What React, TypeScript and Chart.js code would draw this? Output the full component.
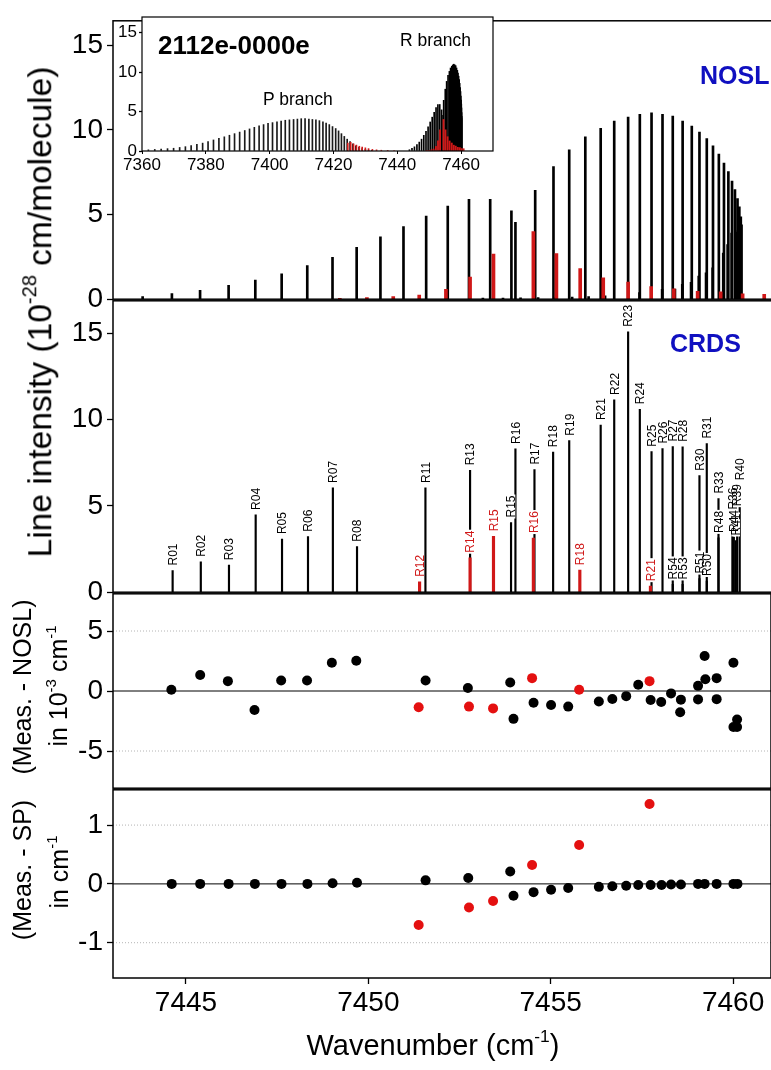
import React, { useEffect, useRef } from "react";
import { Chart, registerables } from "chart.js";

Chart.register(...registerables);

const FONT = "'Liberation Sans', Arial, Helvetica, sans-serif";
Chart.defaults.font.family = FONT;
Chart.defaults.color = "#000";

// ---------------- shared axis ----------------
const X_MIN = 7443.0;
const X_MAX = 7461.04;
const X_TICKS = [7445, 7450, 7455, 7460];

// ---------------- NOSL (top panel) ----------------
const noslBlackWn = [
  7443.81, 7444.61, 7445.38, 7446.16, 7446.89, 7447.61, 7448.31, 7449.0, 7449.66, 7450.31,
  7450.94, 7451.56, 7452.15, 7452.73, 7453.31, 7453.89, 7454.0, 7454.54, 7455.04, 7455.47,
  7455.91, 7456.33, 7456.7, 7457.08, 7457.4, 7457.72, 7458.02, 7458.3, 7458.57, 7458.82,
  7459.03, 7459.23, 7459.4, 7459.56, 7459.7, 7459.82, 7459.92, 7460.0, 7460.07, 7460.12,
  7460.16, 7460.18, 7460.14, 7460.08, 7460.02, 7459.91, 7459.8, 7459.68, 7459.39, 7459.21,
  7459.01, 7458.8, 7458.56, 7458.36, 7458.01, 7457.39, 7453.11, 7453.66, 7454.14, 7454.62,
  7455.1, 7455.55, 7456.0, 7456.45,
];
const noslBlackInt = [
  0.16, 0.33, 0.53, 0.82, 1.13, 1.5, 1.99, 2.48, 3.06, 3.68,
  4.29, 4.91, 5.5, 5.9, 5.9, 5.22, 4.54, 6.43, 7.84, 8.83,
  9.59, 10.1, 10.53, 10.76, 10.92, 11.01, 10.92, 10.82, 10.53, 10.23,
  9.88, 9.49, 9.06, 8.58, 8.05, 7.54, 6.98, 6.47, 5.95, 5.46,
  4.87, 4.4, 4.2, 4.05, 3.95, 3.9, 3.22, 2.73, 1.85, 1.56,
  1.36, 1.0, 0.88, 0.6, 0.58, 0.39, 0.06, 0.06, 0.08, 0.1,
  0.1, 0.12, 0.15, 0.2,
];
const noslRedWn = [
  7449.2, 7449.94, 7450.66, 7451.37, 7452.1, 7452.76, 7453.4, 7454.49, 7455.12, 7455.77,
  7456.4, 7457.08, 7457.71, 7458.33, 7458.98, 7459.61, 7460.21, 7460.8,
];
const noslRedInt = [
  0.05, 0.1, 0.15, 0.25, 0.58, 1.3, 2.67, 4.0, 2.69, 1.81,
  1.27, 1.01, 0.74, 0.62, 0.47, 0.43, 0.31, 0.29,
];
const NOSL_Y_TICKS = [0, 5, 10, 15];

// ---------------- inset (full band) ----------------
const insetPWn = [
  7362.0, 7364.0, 7366.0, 7368.0, 7369.9, 7371.8, 7373.6, 7375.4, 7377.2, 7379.0,
  7380.7, 7382.4, 7384.1, 7385.8, 7387.4, 7389.0, 7390.6, 7392.2, 7393.7, 7395.2,
  7396.7, 7398.1, 7399.5, 7400.9, 7402.3, 7403.6, 7404.9, 7406.2, 7407.5, 7408.7,
  7409.9, 7411.1, 7412.3, 7413.4, 7414.5, 7415.6, 7416.7, 7417.7, 7418.7, 7419.7,
  7420.7, 7421.6, 7422.5, 7423.4, 7424.3, 7425.2, 7426.1, 7427.0, 7428.0, 7429.0,
  7430.0, 7431.0, 7432.0,
];
const insetPInt = [
  0.15, 0.2, 0.25, 0.3, 0.35, 0.45, 0.55, 0.7, 0.85, 1.0,
  1.2, 1.4, 1.6, 1.8, 2.0, 2.2, 2.4, 2.6, 2.8, 3.0,
  3.2, 3.35, 3.5, 3.6, 3.7, 3.8, 3.9, 3.95, 4.0, 4.05,
  4.1, 4.1, 4.05, 4.0, 3.95, 3.85, 3.7, 3.55, 3.35, 3.1,
  2.85, 2.55, 2.2, 1.85, 1.5, 1.2, 0.9, 0.65, 0.45, 0.3,
  0.2, 0.12, 0.08,
];
const insetRedWn = [
  7424.5, 7425.4, 7426.3, 7427.2, 7428.1, 7429.0, 7430.0, 7431.0, 7432.2, 7433.5,
  7435.0, 7437.0, 7439.0,
];
const insetRedInt = [
  1.0, 1.1, 0.9, 0.75, 0.6, 0.5, 0.4, 0.3, 0.2, 0.15,
  0.1, 0.08, 0.06,
];
const INSET_X_TICKS = [7360, 7380, 7400, 7420, 7440, 7460];
const INSET_Y_TICKS = [0, 5, 10, 15];

// ---------------- CRDS ----------------
const crdsBlackWn = [
  7444.63, 7445.4, 7446.17, 7446.9, 7447.62, 7448.33, 7449.01, 7449.67, 7451.54, 7452.76,
  7453.88, 7454.0, 7454.52, 7455.03, 7455.47, 7456.33, 7456.7, 7457.08, 7457.4, 7457.72,
  7458.02, 7458.3, 7458.57, 7458.3, 7458.57, 7459.03, 7459.03, 7459.23, 7459.23, 7459.55,
  7459.55, 7459.93, 7459.97, 7460.02, 7460.06, 7460.13,
];
const crdsBlackInt = [
  1.26, 1.76, 1.57, 4.48, 3.08, 3.22, 6.05, 2.64, 6.05, 7.07,
  4.04, 8.31, 7.11, 8.12, 8.79, 9.69, 11.15, 15.1, 10.61, 8.15,
  8.33, 8.45, 8.43, 0.45, 0.45, 6.76, 0.79, 8.62, 0.65, 5.43,
  3.15, 4.5, 3.2, 3.0, 4.7, 6.2,
];
const crdsBlackLabels = [
  "R01", "R02", "R03", "R04", "R05", "R06", "R07", "R08", "R11", "R13",
  "R15", "R16", "R17", "R18", "R19", "R21", "R22", "R23", "R24", "R25",
  "R26", "R27", "R28", "R54", "R53", "R30", "R51", "R31", "R50", "R33",
  "R48", "R36", "R44", "R41", "R39", "R40",
];
const crdsRedWn = [7451.38, 7452.76, 7453.4, 7454.49, 7455.76, 7457.69];
const crdsRedInt = [0.6, 2.0, 3.24, 3.14, 1.28, 0.35];
const crdsRedLabels = ["R12", "R14", "R15", "R16", "R18", "R21"];
const CRDS_Y_TICKS = [0, 5, 10, 15];

// ---------------- residuals vs NOSL (10^-3 cm-1) ----------------
const resNoslBlackWn = [
  7444.6, 7445.39, 7446.15, 7446.88, 7447.61, 7448.32, 7449.0, 7449.67, 7451.57, 7452.73,
  7453.89, 7453.98, 7454.53, 7455.01, 7455.48, 7456.32, 7456.69, 7457.07, 7457.4, 7457.74,
  7458.03, 7458.3, 7458.57, 7458.55, 7459.04, 7459.04, 7459.22, 7459.24, 7459.55, 7459.55,
  7460.01, 7460.01, 7460.11, 7460.11,
];
const resNoslBlackVal = [
  0.1, 1.34, 0.82, -1.58, 0.88, 0.88, 2.35, 2.52, 0.88, 0.25,
  0.71, -2.32, -0.98, -1.17, -1.3, -0.87, -0.67, -0.43, 0.52, -0.75,
  -0.92, -0.2, -0.72, -1.77, 0.43, -0.7, 2.92, 0.98, 1.07, -0.68,
  2.35, -3.0, -2.38, -3.0,
];
const resNoslRedWn = [7451.38, 7452.76, 7453.42, 7454.49, 7455.78, 7457.71];
const resNoslRedVal = [-1.36, -1.3, -1.45, 1.07, 0.1, 0.82];
const RES1_Y_TICKS = [-5, 0, 5];
const RES1_DOTTED = [-5, 5];

// ---------------- residuals vs SP (cm-1) ----------------
const resSpBlackWn = [
  7444.61, 7445.39, 7446.17, 7446.89, 7447.62, 7448.33, 7449.02, 7449.69, 7451.57, 7452.74,
  7453.89, 7453.98, 7454.53, 7455.01, 7455.48, 7456.32, 7456.69, 7457.07, 7457.4, 7457.74,
  7458.04, 7458.3, 7458.57, 7459.04, 7459.22, 7459.55, 7460.01, 7460.12,
];
const resSpBlackVal = [
  0, 0, 0, 0, 0, 0, 0.01, 0.02, 0.06, 0.1,
  0.21, -0.2, -0.14, -0.1, -0.07, -0.05, -0.04, -0.03, -0.02, -0.02,
  -0.02, -0.01, -0.01, 0, 0, 0, 0, 0,
];
const resSpRedWn = [7451.38, 7452.76, 7453.42, 7454.49, 7455.78, 7457.71];
const resSpRedVal = [-0.7, -0.4, -0.29, 0.32, 0.66, 1.36];
const RES2_Y_TICKS = [-1, 0, 1];
const RES2_DOTTED = [-1, 1];

// ---------------- styling ----------------
const W = 776; // canvas width (page clips at 771, like the cropped original)
const LEFT = 113;
const RIGHT = 773;
const RED_LINE = "#d01818";
const RED_DOT = "#e41010";
const BLUE = "#1010c0";

const pts = (xs: number[], ys: number[]) => xs.map((x, i) => ({ x, y: ys[i] }));

function yScale(min: number, max: number, ticks: number[], width: number, size: number, tickLen: number, pad: number) {
  return {
    type: "linear",
    position: "left",
    min,
    max,
    afterFit: (s: any) => {
      s.width = width;
    },
    afterBuildTicks: (s: any) => {
      s.ticks = ticks.map((v) => ({ value: v }));
    },
    grid: {
      drawOnChartArea: false,
      drawTicks: true,
      tickLength: tickLen,
      tickColor: "#000",
      tickWidth: 1.3,
      color: "#000",
    },
    border: { display: false },
    ticks: { font: { size }, padding: pad, color: "#000", autoSkip: false, callback: (v: any) => String(v) },
  };
}

const hiddenX = {
  type: "linear",
  min: X_MIN,
  max: X_MAX,
  display: false,
  offset: false,
  grid: { offset: false },
};

function base(padding: any) {
  return {
    responsive: false,
    maintainAspectRatio: false,
    animation: false,
    events: [],
    layout: { padding },
    plugins: { legend: { display: false }, tooltip: { enabled: false }, title: { display: false } },
  };
}

function framePlugin(fill: string | null, lw = 1.5) {
  return {
    id: "frame",
    beforeDraw(chart: any) {
      if (!fill) return;
      const a = chart.chartArea;
      const c = chart.ctx;
      c.save();
      c.fillStyle = fill;
      c.fillRect(a.left, a.top, a.right - a.left, a.bottom - a.top);
      c.restore();
    },
    afterDraw(chart: any) {
      const a = chart.chartArea;
      const c = chart.ctx;
      c.save();
      c.strokeStyle = "#000";
      c.lineWidth = lw;
      c.strokeRect(a.left, a.top, a.right - a.left, a.bottom - a.top);
      c.restore();
    },
  };
}

// labels above CRDS sticks (dataset 0 = red, dataset 1 = black)
const stickLabelPlugin = {
  id: "stickLabels",
  afterDatasetsDraw(chart: any) {
    const ctx = chart.ctx;
    const GAP = 5;
    const items: any[] = [];
    const sets = [
      { idx: 1, labels: crdsBlackLabels, color: "#000" },
      { idx: 0, labels: crdsRedLabels, color: RED_LINE },
    ];
    sets.forEach((s) => {
      const meta = chart.getDatasetMeta(s.idx);
      meta.data.forEach((el: any, i: number) => items.push({ x: el.x, y: el.y, text: s.labels[i], color: s.color }));
    });
    ctx.save();
    ctx.font = `12px ${FONT}`;
    items.forEach((it) => {
      const w = ctx.measureText(it.text).width;
      ctx.fillStyle = "#fff";
      ctx.fillRect(it.x - 4.3, it.y - GAP - w - 1, 8.6, w + 2);
    });
    items.forEach((it) => {
      ctx.save();
      ctx.translate(it.x, it.y - GAP);
      ctx.rotate(-Math.PI / 2);
      ctx.fillStyle = it.color;
      ctx.textAlign = "left";
      ctx.textBaseline = "alphabetic";
      ctx.fillText(it.text, 0, 4.3);
      ctx.restore();
    });
    ctx.restore();
  },
};

function makeNosl(): any {
  return {
    type: "bar",
    data: {
      datasets: [
        { data: pts(noslRedWn, noslRedInt), backgroundColor: RED_LINE, barThickness: 3, grouped: false, borderWidth: 0 },
        { data: pts(noslBlackWn, noslBlackInt), backgroundColor: "#000", barThickness: 2, grouped: false, borderWidth: 0 },
      ],
    },
    options: {
      ...base({ left: 0, right: W - RIGHT, top: 18, bottom: 20 }),
      scales: { x: hiddenX, y: yScale(0, 16.45, NOSL_Y_TICKS, LEFT, 28, 6, 4) },
    },
    plugins: [framePlugin(null)],
  };
}

function makeInset(): any {
  return {
    type: "bar",
    data: {
      datasets: [
        { data: pts(insetRedWn, insetRedInt), backgroundColor: RED_LINE, barThickness: 1, grouped: false, borderWidth: 0 },
        { data: pts(noslRedWn, noslRedInt), backgroundColor: RED_LINE, barThickness: 1.2, grouped: false, borderWidth: 0 },
        { data: pts(insetPWn, insetPInt), backgroundColor: "#1a1a1a", barThickness: 1, grouped: false, borderWidth: 0 },
        { data: pts(noslBlackWn, noslBlackInt), backgroundColor: "#000", barThickness: 1, grouped: false, borderWidth: 0 },
      ],
    },
    options: {
      ...base({ left: 0, right: 5, top: 17, bottom: 0 }),
      scales: {
        x: {
          type: "linear",
          position: "bottom",
          min: 7360,
          max: 7470,
          offset: false,
          afterFit: (s: any) => {
            s.height = 30;
          },
          afterBuildTicks: (s: any) => {
            s.ticks = INSET_X_TICKS.map((v) => ({ value: v }));
          },
          grid: { drawOnChartArea: false, drawTicks: true, tickLength: 3, tickColor: "#000", tickWidth: 1, offset: false },
          border: { display: false },
          ticks: { font: { size: 17 }, padding: 1, color: "#000", autoSkip: false, maxRotation: 0, callback: (v: any) => String(v) },
        },
        y: yScale(0, 17, INSET_Y_TICKS, 42, 17, 3, 2),
      },
    },
    plugins: [framePlugin("#fff", 1.2)],
  };
}

function makeCrds(): any {
  return {
    type: "bar",
    data: {
      datasets: [
        { data: pts(crdsRedWn, crdsRedInt), backgroundColor: RED_LINE, barThickness: 2.5, grouped: false, borderWidth: 0 },
        { data: pts(crdsBlackWn, crdsBlackInt), backgroundColor: "#000", barThickness: 1.5, grouped: false, borderWidth: 0 },
      ],
    },
    options: {
      ...base({ left: 0, right: W - RIGHT, top: 20, bottom: 20 }),
      scales: { x: hiddenX, y: yScale(0, 16.9, CRDS_Y_TICKS, LEFT, 28, 6, 4) },
    },
    plugins: [framePlugin(null), stickLabelPlugin],
  };
}

function refLine(y: number, color: string, dash: number[]) {
  return {
    type: "line",
    data: [
      { x: X_MIN, y },
      { x: X_MAX, y },
    ],
    borderColor: color,
    borderWidth: 1,
    borderDash: dash,
    pointRadius: 0,
    showLine: true,
    fill: false,
  };
}

function makeResidual(
  blackX: number[],
  blackY: number[],
  redX: number[],
  redY: number[],
  dotted: number[],
  yMin: number,
  yMax: number,
  yTicks: number[],
  withX: boolean,
  padBottom: number
): any {
  const x: any = withX
    ? {
        type: "linear",
        position: "bottom",
        min: X_MIN,
        max: X_MAX,
        offset: false,
        afterFit: (s: any) => {
          s.height = 70;
        },
        afterBuildTicks: (s: any) => {
          s.ticks = X_TICKS.map((v) => ({ value: v }));
        },
        grid: { drawOnChartArea: false, drawTicks: true, tickLength: 6, tickColor: "#000", tickWidth: 1.3 },
        border: { display: false },
        ticks: { font: { size: 28 }, padding: 2, color: "#000", autoSkip: false, maxRotation: 0, callback: (v: any) => String(v) },
      }
    : hiddenX;
  return {
    type: "scatter",
    data: {
      datasets: [
        { data: pts(redX, redY), backgroundColor: RED_DOT, borderWidth: 0, pointRadius: 5 },
        { data: pts(blackX, blackY), backgroundColor: "#000", borderWidth: 0, pointRadius: 5 },
        refLine(0, "#000", []),
        ...dotted.map((v) => refLine(v, "#b4b4b4", [1, 2])),
      ],
    },
    options: {
      ...base({ left: 0, right: W - RIGHT, top: 20, bottom: padBottom }),
      scales: { x, y: yScale(yMin, yMax, yTicks, LEFT, 28, 6, 4) },
    },
    plugins: [framePlugin(null)],
  };
}

const makeRes1 = () =>
  makeResidual(resNoslBlackWn, resNoslBlackVal, resNoslRedWn, resNoslRedVal, RES1_DOTTED, -8.1, 8.1, RES1_Y_TICKS, false, 20);
const makeRes2 = () =>
  makeResidual(resSpBlackWn, resSpBlackVal, resSpRedWn, resSpRedVal, RES2_DOTTED, -1.6, 1.6, RES2_Y_TICKS, true, 0);

function ChartBox({ left, top, width, height, make }: any) {
  const ref = useRef<HTMLCanvasElement | null>(null);
  useEffect(() => {
    const chart = new Chart(ref.current as HTMLCanvasElement, make());
    return () => chart.destroy();
  }, [make]);
  return (
    <canvas
      ref={ref}
      width={width}
      height={height}
      style={{ position: "absolute", left, top, width, height, display: "block" }}
    />
  );
}

const sup: any = { fontSize: "0.6em", position: "relative", top: "-0.75em" };

function VText({ cx, cy, size, children }: any) {
  return (
    <div
      style={{
        position: "absolute",
        left: cx,
        top: cy,
        transform: "translate(-50%, -50%) rotate(-90deg)",
        whiteSpace: "nowrap",
        lineHeight: 1,
        fontFamily: FONT,
        fontSize: size,
        color: "#000",
      }}
    >
      {children}
    </div>
  );
}

function HText({ left, top, size, bold, color, children, center }: any) {
  return (
    <div
      style={{
        position: "absolute",
        left,
        top,
        transform: center ? "translate(-50%, -50%)" : undefined,
        whiteSpace: "nowrap",
        lineHeight: 1,
        fontFamily: FONT,
        fontSize: size,
        fontWeight: bold ? "bold" : "normal",
        color: color || "#000",
      }}
    >
      {children}
    </div>
  );
}

export default function App() {
  return (
    <div
      style={{
        position: "absolute",
        left: 0,
        top: 0,
        width: 771,
        height: 1070,
        background: "#fff",
        overflow: "hidden",
        fontFamily: FONT,
      }}
    >
      <ChartBox left={0} top={0} width={W} height={320} make={makeNosl} />
      <ChartBox left={0} top={280} width={W} height={333} make={makeCrds} />
      <ChartBox left={0} top={573} width={W} height={236} make={makeRes1} />
      <ChartBox left={0} top={769} width={W} height={279} make={makeRes2} />
      <ChartBox left={100} top={0} width={398} height={181} make={makeInset} />

      <HText left={158} top={32} size={26} bold>
        2112e-0000e
      </HText>
      <HText left={400} top={32} size={17.5}>
        R branch
      </HText>
      <HText left={263} top={91} size={17.5}>
        P branch
      </HText>
      <HText left={700} top={63} size={25} bold color={BLUE}>
        NOSL
      </HText>
      <HText left={670} top={331} size={25} bold color={BLUE}>
        CRDS
      </HText>

      <VText cx={40} cy={312} size={33.5}>
        Line intensity (10<span style={sup}>-28</span> cm/molecule)
      </VText>
      <VText cx={22} cy={687} size={25}>
        (Meas. - NOSL)
      </VText>
      <VText cx={58} cy={686} size={25}>
        in 10<span style={sup}>-3</span> cm<span style={sup}>-1</span>
      </VText>
      <VText cx={22} cy={870} size={25}>
        (Meas. - SP)
      </VText>
      <VText cx={59} cy={872} size={25}>
        in cm<span style={sup}>-1</span>
      </VText>
      <HText left={433} top={1045} size={29} center>
        Wavenumber (cm<span style={sup}>-1</span>)
      </HText>
    </div>
  );
}
